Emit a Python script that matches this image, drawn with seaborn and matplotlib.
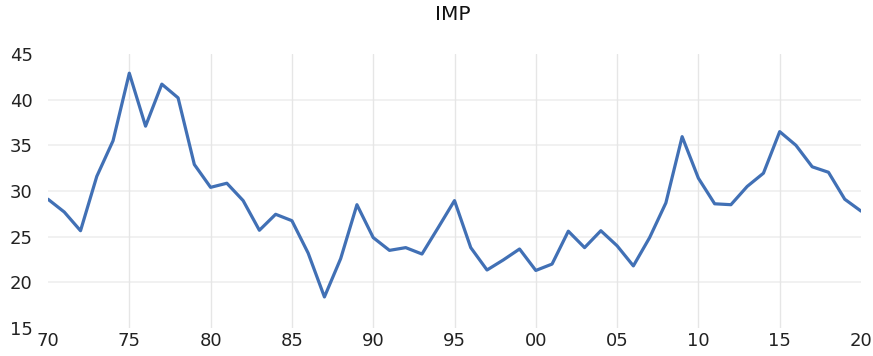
import matplotlib
matplotlib.use("Agg")
import matplotlib.pyplot as plt
import seaborn as sns
import pandas as pd

years = list(range(1970, 2021))
imp = [29.1, 27.7, 25.65, 31.6, 35.5, 42.9, 37.1, 41.7, 40.2, 32.9,
       30.4, 30.85, 28.95, 25.7, 27.45, 26.75, 23.2, 18.4, 22.6, 28.5,
       24.9, 23.5, 23.8, 23.1, 26.0, 28.95, 23.8, 21.35, 22.45, 23.65,
       21.3, 22.0, 25.6, 23.8, 25.65, 24.0, 21.8, 24.9, 28.7, 35.95,
       31.4, 28.6, 28.5, 30.5, 31.95, 36.5, 35.0, 32.65, 32.05, 29.1,
       27.8]
x_ticks = [1970, 1975, 1980, 1985, 1990, 1995, 2000, 2005, 2010, 2015, 2020]
x_tick_labels = ["70", "75", "80", "85", "90", "95", "00", "05", "10", "15", "20"]
y_ticks = [15, 20, 25, 30, 35, 40, 45]

df = pd.DataFrame({"year": years, "IMP": imp})

sns.set_theme(style="white")
plt.rcParams["font.family"] = ["DejaVu Sans"]

fig = plt.figure(figsize=(8.73, 3.56), dpi=100)
ax = fig.add_axes([48 / 873, 1 - 328 / 356, (861 - 48) / 873, (328 - 54) / 356])

for yv in y_ticks[1:-1]:
    ax.axhline(yv, color="#efefef", lw=1.2, zorder=0)
for xv in x_ticks[1:-1]:
    ax.axvline(xv, color="#e6e6e6", lw=1.0, zorder=0)

sns.lineplot(data=df, x="year", y="IMP", ax=ax, color="#4170b5", lw=2.3, zorder=3)

ax.set_xlim(1970, 2020)
ax.set_ylim(15, 45)
ax.set_xticks(x_ticks)
ax.set_xticklabels(x_tick_labels)
ax.set_yticks(y_ticks)
ax.set_xlabel("")
ax.set_ylabel("")
for s in ax.spines.values():
    s.set_visible(False)
ax.tick_params(axis="both", length=0, labelsize=13, colors="#222222")
ax.tick_params(axis="x", pad=3)
ax.tick_params(axis="y", pad=11)

fig.text(453 / 873, 1 - 15 / 356, "IMP", ha="center", va="center",
         fontsize=14.5, color="#111111")

fig.savefig("out.png", dpi=100)
